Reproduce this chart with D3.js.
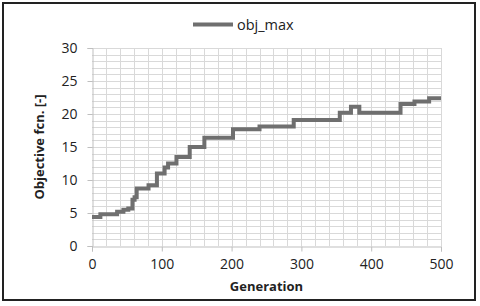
<!DOCTYPE html>
<html>
<head>
<meta charset="utf-8">
<script src="https://cdn.jsdelivr.net/npm/d3@7"></script>
<style>
  body { margin: 0; background: #fff; }
  text { font-family: "Open Sans", "Liberation Sans", sans-serif; fill: #222; }
</style>
</head>
<body>
<svg id="chart"></svg>
<script>
// step points of obj_max (generation where the value changes)
const generations = [0, 12, 36, 45, 52, 58, 61, 64, 81, 93, 104, 109, 121, 140, 161, 202, 240, 289, 355, 371, 383, 442, 462, 483, 500];
const objMax = [4.4, 4.8, 5.2, 5.5, 5.7, 7.0, 7.4, 8.7, 9.2, 11.0, 11.9, 12.5, 13.5, 15.0, 16.4, 17.7, 18.1, 19.1, 20.2, 21.1, 20.2, 21.5, 21.9, 22.4, 22.4];
const xTicks = [0, 100, 200, 300, 400, 500];
const yTicks = [0, 5, 10, 15, 20, 25, 30];
const seriesName = "obj_max";

const width = 480, height = 306;
const margin = {top: 48, right: 39, bottom: 60, left: 92};

const svg = d3.select("#chart")
    .attr("width", width)
    .attr("height", height);

// outer frame
svg.append("rect")
    .attr("x", 3).attr("y", 3)
    .attr("width", 472).attr("height", 297)
    .attr("fill", "none")
    .attr("stroke", "#222")
    .attr("stroke-width", 2);

let x = d3.scaleLinear()
    .domain([0, 500])
    .range([margin.left, width - margin.right]);

let y = d3.scaleLinear()
    .domain([0, 30])
    .range([height - margin.bottom, margin.top]);

// gridlines
let grid = svg.append("g").attr("stroke", "#d9d9d9").attr("stroke-width", 1);
grid.selectAll(".hg")
    .data(d3.range(1, 31))
    .join("line")
    .attr("x1", x(0)).attr("x2", x(500))
    .attr("y1", d => Math.round(y(d)) + 0.5)
    .attr("y2", d => Math.round(y(d)) + 0.5);
grid.selectAll(".vg")
    .data(d3.range(20, 520, 20))
    .join("line")
    .attr("y1", y(0)).attr("y2", y(30))
    .attr("x1", d => Math.round(x(d)) + 0.5)
    .attr("x2", d => Math.round(x(d)) + 0.5);

// axes
let xAxis = svg.append("g")
    .attr("transform", `translate(0, ${Math.round(y(0)) + 0.5})`)
    .call(d3.axisBottom(x).tickValues(xTicks).tickSize(5).tickPadding(8));
let yAxis = svg.append("g")
    .attr("transform", `translate(${Math.round(x(0)) + 0.5}, 0)`)
    .call(d3.axisLeft(y).tickValues(yTicks).tickSize(5).tickPadding(10));

[xAxis, yAxis].forEach(a => {
    a.selectAll("path").attr("stroke", "#bfbfbf");
    a.selectAll("line").attr("stroke", "#bfbfbf");
    a.selectAll("text")
        .attr("font-family", "Open Sans")
        .attr("font-size", 14)
        .attr("fill", "#222");
});

// line
let line = d3.line()
    .x((d, i) => x(generations[i]))
    .y(d => y(d))
    .curve(d3.curveStepAfter);

svg.append("path")
    .datum(objMax)
    .attr("d", line)
    .attr("fill", "none")
    .attr("stroke", "#6f6f6f")
    .attr("stroke-width", 4)
    .attr("stroke-linejoin", "miter");

// axis titles
svg.append("text")
    .attr("x", (x(0) + x(500)) / 2)
    .attr("y", 291)
    .attr("text-anchor", "middle")
    .attr("font-weight", "bold")
    .attr("font-size", 13)
    .text("Generation");

svg.append("text")
    .attr("transform", `translate(44, ${(y(0) + y(30)) / 2}) rotate(-90)`)
    .attr("text-anchor", "middle")
    .attr("font-weight", "bold")
    .attr("font-size", 13)
    .text("Objective fcn. [-]");

// legend
let legend = svg.append("g");
legend.append("line")
    .attr("x1", 193).attr("x2", 233)
    .attr("y1", 24.5).attr("y2", 24.5)
    .attr("stroke", "#6f6f6f")
    .attr("stroke-width", 4);
legend.append("text")
    .attr("x", 237)
    .attr("y", 29.5)
    .attr("font-size", 14.5)
    .text(seriesName);
</script>
</body>
</html>
